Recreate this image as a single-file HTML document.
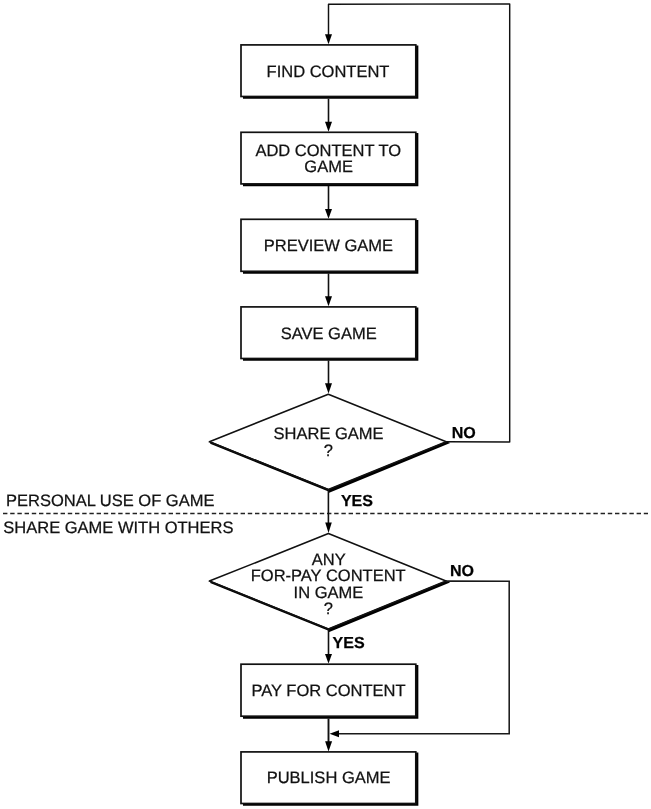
<!DOCTYPE html>
<html lang="en">
<head>
<meta charset="utf-8">
<title>Game flowchart</title>
<style>
  html, body { margin: 0; padding: 0; background: #fff; }
  body { width: 651px; height: 809px; overflow: hidden; }
  svg { display: block; will-change: transform; transform: translateZ(0); }
  text { font-family: "Liberation Sans", Arial, Helvetica, sans-serif; fill: #111; text-rendering: geometricPrecision; stroke: #111; stroke-width: .25px; }
  .t { font-size: 16.5px; text-anchor: middle; }
  .l { font-size: 16.5px; text-anchor: start; }
  .b { font-size: 15.9px; font-weight: bold; text-anchor: start; fill: #000; }
  .box { fill: #fff; stroke: #111; stroke-width: 1.7; }
  .sh { fill: none; stroke: #000; stroke-width: 3.1; stroke-linecap: butt; stroke-linejoin: miter; }
  .ln { fill: none; stroke: #111; stroke-width: 1.6; stroke-linejoin: round; }
  .ah { fill: #000; stroke: none; }
</style>
</head>
<body>
<svg width="651" height="809" viewBox="0 0 651 809">
  <rect x="0" y="0" width="651" height="809" fill="#fff"/>

  <!-- dashed divider -->
  <line x1="3" y1="513.5" x2="648" y2="513.5" stroke="#222" stroke-width="1.4" stroke-dasharray="4.4 2.8"/>

  <!-- loop back from first decision -->
  <polyline class="ln" style="stroke-width:1.45" points="446,441.8 509.7,441.9 509.7,3.9 328.5,4.3 328.5,36"/>
  <polygon class="ah" points="325,34.3 332,34.3 328.5,44.2"/>

  <!-- box 1 -->
  <polyline class="sh" points="243,97.3 416.8,97.3 416.8,45.6"/>
  <rect class="box" x="241" y="44.9" width="174.8" height="51.6"/>
  <text class="t" x="328" y="76.8">FIND CONTENT</text>

  <line class="ln" x1="328.5" y1="98.8" x2="328.5" y2="124"/>
  <polygon class="ah" points="325,121.7 332,121.7 328.5,131.7"/>

  <!-- box 2 -->
  <polyline class="sh" points="243,184.6 416.8,184.6 416.8,133"/>
  <rect class="box" x="241" y="132.3" width="174.8" height="51.6"/>
  <text class="t" x="328.3" y="155.9">ADD CONTENT TO</text>
  <text class="t" x="328.6" y="171.9">GAME</text>

  <line class="ln" x1="328.5" y1="186" x2="328.5" y2="211"/>
  <polygon class="ah" points="325,208.9 332,208.9 328.5,218.8"/>

  <!-- box 3 -->
  <polyline class="sh" points="243,272.3 416.8,272.3 416.8,220"/>
  <rect class="box" x="241" y="219.3" width="174.8" height="52"/>
  <text class="t" x="328.4" y="251.2">PREVIEW GAME</text>

  <line class="ln" x1="328.5" y1="273.5" x2="328.5" y2="298"/>
  <polygon class="ah" points="325,296.2 332,296.2 328.5,306.2"/>

  <!-- box 4 -->
  <polyline class="sh" points="243,359.3 416.8,359.3 416.8,307.5"/>
  <rect class="box" x="241" y="306.9" width="174.8" height="51.6"/>
  <text class="t" x="328.7" y="338.9">SAVE GAME</text>

  <line class="ln" x1="328.5" y1="360.5" x2="328.5" y2="385"/>
  <polygon class="ah" points="325,383.3 332,383.3 328.5,393.6"/>

  <!-- decision 1 -->
  <polygon points="328.3,489.2 446.5,441.2 450.2,443.1 328.6,492.9" fill="#000"/>
  <line x1="210.6" y1="442.6" x2="328.4" y2="490.2" stroke="#000" stroke-width="2.4"/>
  <polygon class="ln" points="328.3,394.3 446.2,441.7 328.3,489.6 209.4,441.8" fill="#fff" style="fill:none"/>
  <text class="t" x="328.6" y="439.1">SHARE GAME</text>
  <text class="t" x="328.3" y="455.9">?</text>
  <text class="b" transform="translate(451.7 438.4) scale(1.01 1)">NO</text>

  <line class="ln" x1="328.4" y1="490" x2="328.4" y2="525"/>
  <polygon class="ah" points="325.2,522.6 331.8,522.6 328.5,533"/>
  <text class="b" transform="translate(340.9 506.4) scale(1.01 1)">YES</text>

  <text class="l" x="6" y="505.6">PERSONAL USE OF GAME</text>
  <text class="l" x="3.3" y="533.3">SHARE GAME WITH OTHERS</text>

  <!-- decision 2 -->
  <polygon points="328.4,628.5 446.3,580.5 450,582.4 328.7,632.2" fill="#000"/>
  <line x1="210.6" y1="582" x2="328.4" y2="629.5" stroke="#000" stroke-width="2.4"/>
  <polygon class="ln" points="328.4,533.6 446,581 328.4,628.9 209.4,581.1" style="fill:none"/>
  <text class="t" x="328.7" y="564.9">ANY</text>
  <text class="t" x="328.2" y="581.4">FOR-PAY CONTENT</text>
  <text class="t" x="328.4" y="598">IN GAME</text>
  <text class="t" x="328.3" y="614.2">?</text>
  <text class="b" transform="translate(449.9 576.4) scale(1.01 1)">NO</text>

  <polyline points="446,581.1 509.2,581.2 509.2,733.7 338,733.7" fill="none" stroke="#1a1a1a" stroke-width="1.55"/>
  <polygon class="ah" points="339,730.2 339,737.2 329.6,733.7"/>

  <line class="ln" x1="328.5" y1="629" x2="328.5" y2="656"/>
  <polygon class="ah" points="325,654 332,654 328.5,663.6"/>
  <text class="b" transform="translate(332.6 647.8) scale(1.01 1)">YES</text>

  <!-- box 5 -->
  <polyline class="sh" points="243,717.1 416.8,717.1 416.8,665"/>
  <rect class="box" x="241" y="664.2" width="174.8" height="52"/>
  <text class="t" x="328.5" y="695.9">PAY FOR CONTENT</text>

  <line x1="328.5" y1="718.6" x2="328.5" y2="743" stroke="#111" stroke-width="1.9"/>
  <polygon class="ah" points="325.1,741.3 332.1,741.3 328.5,751.4"/>

  <!-- box 6 -->
  <polyline class="sh" points="243,804.2 416.8,804.2 416.8,752.5"/>
  <rect class="box" x="241" y="751.9" width="174.8" height="51.6"/>
  <text class="t" x="328.6" y="783.3">PUBLISH GAME</text>
</svg>
</body>
</html>
